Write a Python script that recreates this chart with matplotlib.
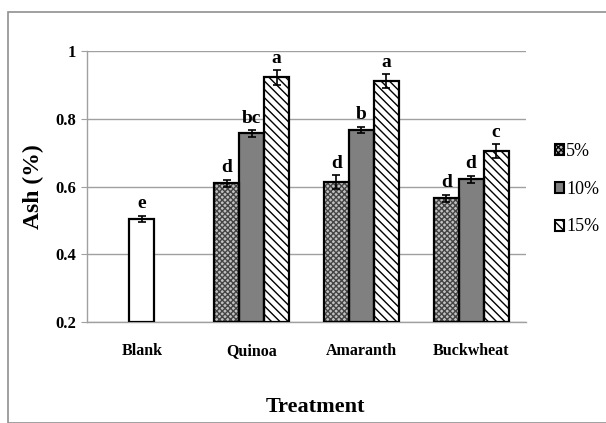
import matplotlib
matplotlib.use("Agg")
import matplotlib.pyplot as plt
import numpy as np
from matplotlib.patches import Rectangle, Patch

plt.rcParams['font.family'] = ['Liberation Serif', 'DejaVu Serif']
plt.rcParams['font.weight'] = 'bold'
plt.rcParams['hatch.linewidth'] = 1.0

categories = ["Blank", "Quinoa", "Amaranth", "Buckwheat"]
series = ["5%", "10%", "15%"]
blank_value = 0.505
blank_err = 0.009
blank_letter = "e"
values = {
    "5%":  [0.610, 0.613, 0.565],
    "10%": [0.757, 0.768, 0.621],
    "15%": [0.922, 0.912, 0.705],
}
errors = {
    "5%":  [0.010, 0.021, 0.011],
    "10%": [0.010, 0.009, 0.011],
    "15%": [0.021, 0.020, 0.020],
}
letters = {
    "5%":  ["d", "d", "d"],
    "10%": ["bc", "b", "d"],
    "15%": ["a", "a", "c"],
}
yticks = [0.2, 0.4, 0.6, 0.8, 1.0]
ytick_labels = ["0.2", "0.4", "0.6", "0.8", "1"]

styles = {
    "5%":  dict(facecolor="#c0c0c0", hatch="xxxxxx", edgecolor="#444444"),
    "10%": dict(facecolor="#808080", hatch=None, edgecolor="black"),
    "15%": dict(facecolor="white", hatch="\\\\\\\\", edgecolor="black"),
}

fig = plt.figure(figsize=(6.06, 4.23), dpi=100)
ax = fig.add_axes([0.1436, 0.2388, 0.7244, 0.6406])

w = 0.227
x = np.arange(len(categories))

# Blank bar
ax.bar(x[0], blank_value - 0.2, bottom=0.2, width=w, facecolor="white",
       edgecolor="black", linewidth=1.6, zorder=3)
ax.errorbar(x[0], blank_value, yerr=blank_err, fmt="none", ecolor="black",
            capsize=3, elinewidth=1.2, capthick=1.2, zorder=4)
ax.text(x[0], blank_value + blank_err + 0.01, blank_letter, ha="center",
        va="bottom", fontsize=14, fontweight="bold")

offsets = [-w, 0, w]
handles = []
for s, off in zip(series, offsets):
    xs = x[1:] + off
    vals = np.array(values[s])
    st = styles[s]
    ax.bar(xs, vals - 0.2, bottom=0.2, width=w, facecolor=st["facecolor"],
           hatch=st["hatch"], edgecolor=st["edgecolor"], linewidth=0, zorder=3)
    ax.bar(xs, vals - 0.2, bottom=0.2, width=w, facecolor="none",
           edgecolor="black", linewidth=1.6, zorder=3.5)
    handles.append(Patch(facecolor=st["facecolor"], hatch=st["hatch"],
                         edgecolor="black", linewidth=1.5, label=s))
    ax.errorbar(xs, vals, yerr=errors[s], fmt="none", ecolor="black",
                capsize=3, elinewidth=1.2, capthick=1.2, zorder=4)
    for xi, v, e, l in zip(xs, vals, errors[s], letters[s]):
        ax.text(xi, v + e + 0.01, l, ha="center", va="bottom",
                fontsize=14, fontweight="bold")

ax.set_xlim(-0.5, 3.5)
ax.set_ylim(0.2, 1.0)
ax.set_yticks(yticks)
ax.set_yticklabels(ytick_labels, fontsize=12, fontweight="bold")
ax.set_xticks(x)
ax.set_xticklabels(categories, fontsize=11.5, fontweight="bold")
ax.tick_params(axis="y", length=4, color="#a0a0a0", pad=4)
ax.tick_params(axis="x", length=0, pad=15)
ax.yaxis.grid(True, color="#a0a0a0", linewidth=1.0, zorder=0)
ax.set_axisbelow(True)
for sp in ["top", "right"]:
    ax.spines[sp].set_visible(False)
ax.spines["left"].set_color("#a0a0a0")
ax.spines["bottom"].set_color("#a0a0a0")
ax.spines["left"].set_linewidth(1.0)
ax.spines["bottom"].set_linewidth(1.0)

ax.set_ylabel("Ash (%)", fontsize=17, fontweight="bold", labelpad=8)
ax.set_xlabel("Treatment", fontsize=16, fontweight="bold", labelpad=20)
ax.xaxis.set_label_coords(0.52, -0.275)

leg = ax.legend(handles=handles, loc="center left", bbox_to_anchor=(1.05, 0.49),
                frameon=False, fontsize=13, handlelength=0.5, handleheight=0.55,
                handletextpad=0.1, labelspacing=1.15, borderaxespad=0)
for t in leg.get_texts():
    t.set_fontweight("normal")

# outer frame
fig.patches.append(Rectangle((8/606, 0), 1, 1 - 12/423, transform=fig.transFigure,
                             fill=False, edgecolor="#909090", linewidth=1.2))

fig.savefig("out.png", dpi=100)
